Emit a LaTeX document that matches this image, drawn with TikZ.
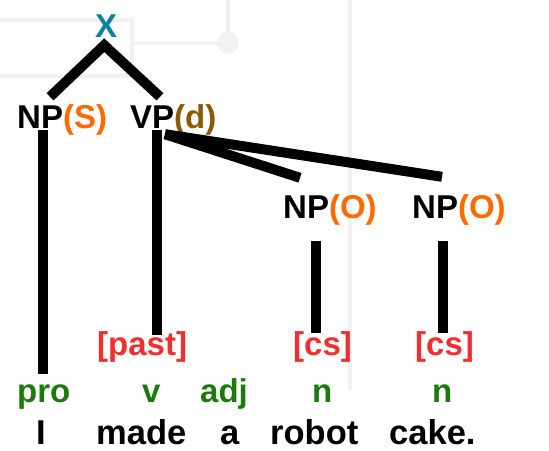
\documentclass[tikz,border=0pt]{standalone}
\usepackage{fontspec}
\setmainfont{Liberation Sans}
\usepackage{tikz}
\usetikzlibrary{calc}

\definecolor{rootblue}{HTML}{0E7FA6}
\definecolor{rolecol}{HTML}{FF6A00}
\definecolor{dcol}{HTML}{8C5A00}
\definecolor{featcol}{HTML}{F02E2E}
\definecolor{poscol}{HTML}{1C7A0C}

\tikzset{
  lbl/.style={inner sep=0pt, anchor=base west, text height=24pt, text depth=0pt,
    font=\fontsize{33}{33}\selectfont\bfseries},
  word/.style={lbl, font=\fontsize{34.5}{34.5}\selectfont\bfseries},
  branch/.style={line width=10pt, line join=miter},
  ghost/.style={draw=black!5, line width=4pt}
}

\begin{document}
\begin{tikzpicture}[x=1pt, y=-1pt]

 %%Paramaters
%% rows, can be modified
\def\phraseRow{128}
\def\objRow{218}
\def\featRow{355}
\def\posRow{402}
\def\wordRow{444}

\useasboundingbox (0,0) rectangle (549,450);

%% faint background
\draw[ghost] (-5,20) rectangle (132,76);
\draw[ghost] (132,43) -- (218,43);
\draw[ghost] (228,0) -- (228,43);
\fill[black!5] (228,43) circle (11);
\draw[ghost] (350,0) -- (350,390);

%% Tree labels
\node[lbl, text=rootblue] (root) at (95, 37) {X};
\node[lbl] (nps) at (17, \phraseRow) {NP\textcolor{rolecol}{(S)}};
\node[lbl] (vpd) at (130, \phraseRow) {VP\textcolor{dcol}{(d)}};
\node[lbl] (npo1) at (283, \objRow) {NP\textcolor{rolecol}{(O)}};
\node[lbl] (npo2) at (412, \objRow) {NP\textcolor{rolecol}{(O)}};

%% Features
\node[lbl, text=featcol] (past) at (97, \featRow) {[past]};
\node[lbl, text=featcol] (cs1) at (293, \featRow) {[cs]};
\node[lbl, text=featcol] (cs2) at (415, \featRow) {[cs]};

%% Parts of speech
\node[lbl, text=poscol] (pro) at (17, \posRow) {pro};
\node[lbl, text=poscol] (v) at (142, \posRow) {v};
\node[lbl, text=poscol] (adj) at (200, \posRow) {adj};
\node[lbl, text=poscol] (n1) at (312, \posRow) {n};
\node[lbl, text=poscol] (n2) at (432, \posRow) {n};

%% Words
\node[word] (wI) at (36, \wordRow) {I};
\node[word] (wmade) at (96, \wordRow) {made};
\node[word] (wa) at (220, \wordRow) {a};
\node[word] (wrobot) at (270, \wordRow) {robot};
\node[word] (wcake) at (389, \wordRow) {cake.};

%% X branches
\draw[branch] ($(nps.north west) + (33, -7)$) -- ($(root.south) + (-2, 8)$) -- ($(vpd.north west) + (30, -7)$);

% NP(S) down to pro
\draw[branch] ($(nps.south west) + (26, 2)$) -- ($(pro.north west) + (26, -4)$);
% VP down to [past]
\draw[branch] ($(vpd.south west) + (27, 2)$) -- ($(past.north west) + (60, 4)$);
% VP to objects
\draw[branch] ($(vpd.south west) + (35, 6)$) -- ($(npo1.north west) + (17, -16)$);
\draw[branch] ($(vpd.south west) + (35, 6)$) -- ($(npo2.north west) + (30, -17)$);
% objects down to [cs]
\draw[branch] ($(npo1.south west) + (33, 23)$) -- ($(cs1.north west) + (23, 2)$);
\draw[branch] ($(npo2.south west) + (31, 23)$) -- ($(cs2.north west) + (28, 2)$);

\end{tikzpicture}
\end{document}
